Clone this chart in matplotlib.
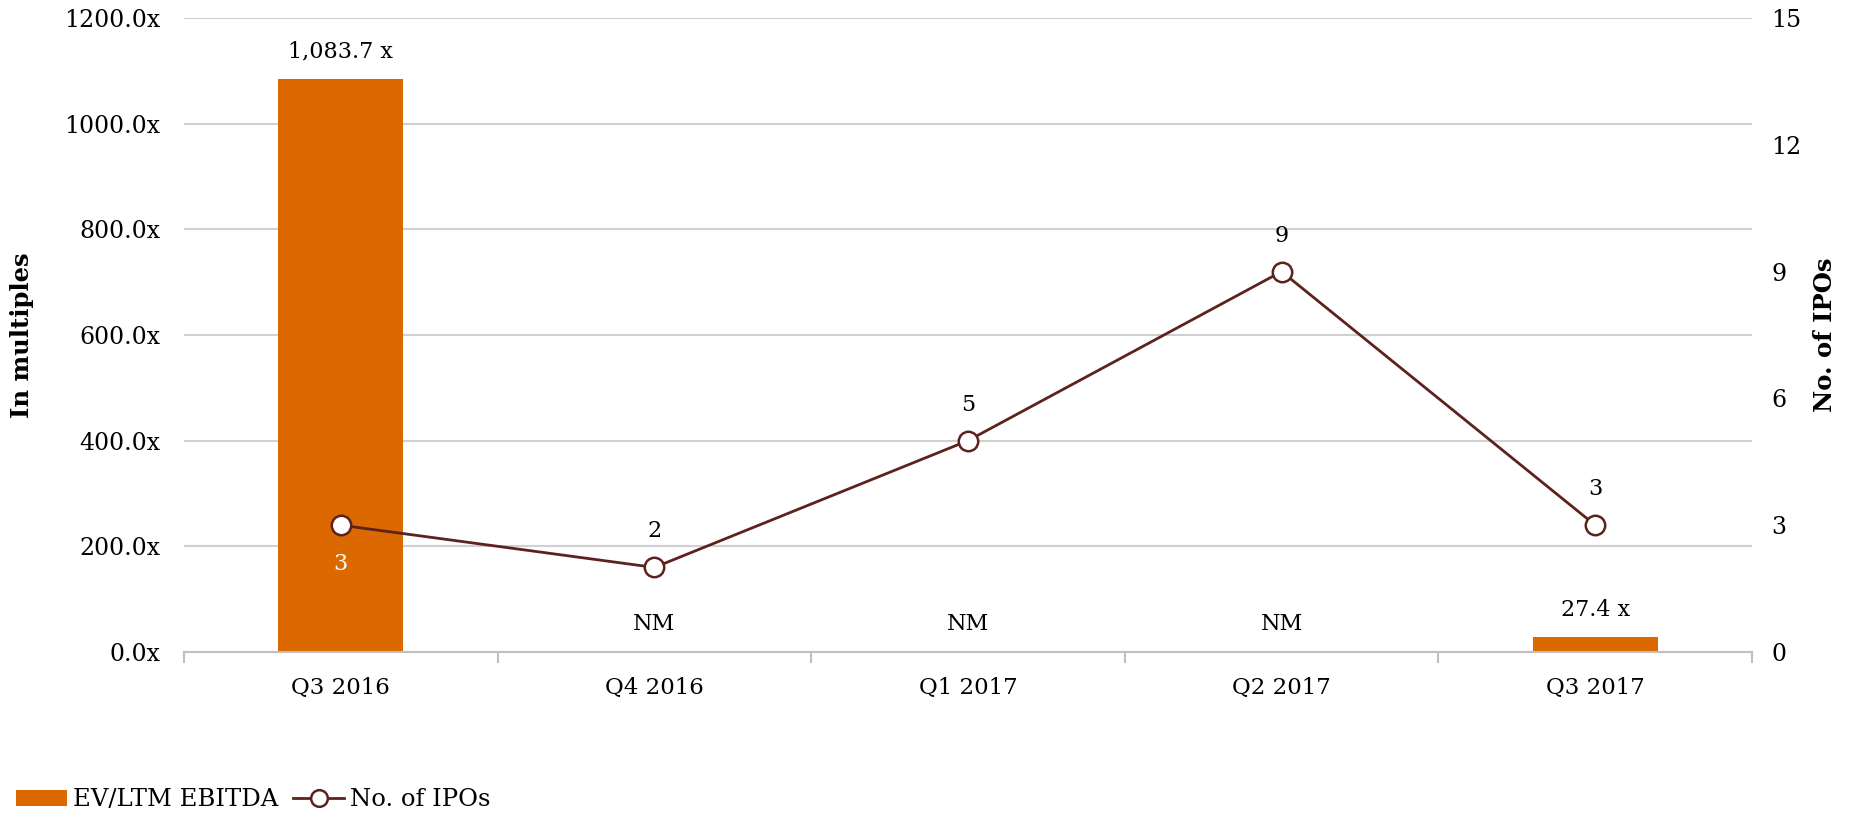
import matplotlib
matplotlib.use("Agg")
import matplotlib.pyplot as plt
from matplotlib.patches import Patch
from matplotlib.lines import Line2D
import numpy as np

categories = ["Q3 2016", "Q4 2016", "Q1 2017", "Q2 2017", "Q3 2017"]
ev_ebitda = [1083.7, 0, 0, 0, 27.4]
ev_labels = ["1,083.7 x", "NM", "NM", "NM", "27.4 x"]
ipos = [3, 2, 5, 9, 3]
left_ticks = [0, 200, 400, 600, 800, 1000, 1200]
right_ticks = [0, 3, 6, 9, 12, 15]

ORANGE = "#DC6900"
MAROON = "#5E221E"
GRID = "#D0D0D0"
FONT = "DejaVu Serif"
FS = 16.5
FSY = 17
FSD = 16
FSL = 17.5

plt.rcParams["font.family"] = FONT

fig = plt.figure(figsize=(18.56, 8.17), dpi=100)
ax = fig.add_axes([0.0991, 0.202, 0.8449, 0.776])
x = np.arange(len(categories))

ax.bar(x, ev_ebitda, width=0.4, color=ORANGE, zorder=2)
ax.set_xlim(-0.5, len(categories) - 0.5)
ax.set_ylim(0, 1200)
ax.set_yticks(left_ticks)
ax.set_yticklabels([f"{v:.1f}x" for v in left_ticks], fontsize=FSY)
ax.yaxis.grid(True, color=GRID, linewidth=1.5, zorder=0)
ax.set_axisbelow(True)
for s in ["top", "right", "left"]:
    ax.spines[s].set_visible(False)
ax.spines["bottom"].set_color("#BFBFBF")
ax.spines["bottom"].set_linewidth(1.5)
ax.tick_params(axis="y", length=0, pad=17)
ax.set_xticks(x)
ax.set_xticklabels(categories, fontsize=FS)
ax.tick_params(axis="x", which="major", length=0, pad=18)
ax.set_xticks(np.arange(-0.5, len(categories)), minor=True)
ax.tick_params(axis="x", which="minor", length=8, width=1.5, color="#BFBFBF")
ax.set_ylabel("In multiples", fontsize=17.5, fontweight="bold", labelpad=22)

for i, (v, lab) in enumerate(zip(ev_ebitda, ev_labels)):
    ax.annotate(lab, (x[i], v), xytext=(0, 12), textcoords="offset points",
                ha="center", va="bottom", fontsize=FSD)

ax2 = ax.twinx()
ax2.plot(x, ipos, color=MAROON, linewidth=2, marker="o", markersize=14,
         markerfacecolor="white", markeredgecolor=MAROON, markeredgewidth=1.8,
         zorder=3)
ax2.set_ylim(0, 15)
ax2.set_yticks(right_ticks)
ax2.set_yticklabels([str(v) for v in right_ticks], fontsize=FSY)
ax2.tick_params(axis="y", length=0, pad=14)
for s in ax2.spines.values():
    s.set_visible(False)
ax2.set_ylabel("No. of IPOs", fontsize=17.5, fontweight="bold", labelpad=8)

for i, v in enumerate(ipos):
    if i == 0:
        ax2.annotate(str(v), (x[i], v), xytext=(0, -20), textcoords="offset points",
                     ha="center", va="top", fontsize=FSD, color="white")
    else:
        ax2.annotate(str(v), (x[i], v), xytext=(0, 18), textcoords="offset points",
                     ha="center", va="bottom", fontsize=FSD)

handles = [Patch(facecolor=ORANGE, edgecolor="none"),
           Line2D([0], [0], color=MAROON, linewidth=2, marker="o", markersize=12,
                  markerfacecolor="white", markeredgecolor=MAROON, markeredgewidth=1.8)]
fig.legend(handles, ["EV/LTM EBITDA", "No. of IPOs"], loc="lower left",
           bbox_to_anchor=(-0.003, -0.02), ncol=2, frameon=False, fontsize=FSL,
           handlelength=2.1, handleheight=0.6, handletextpad=0.25, columnspacing=0.6)

fig.savefig("out.png", dpi=100)
